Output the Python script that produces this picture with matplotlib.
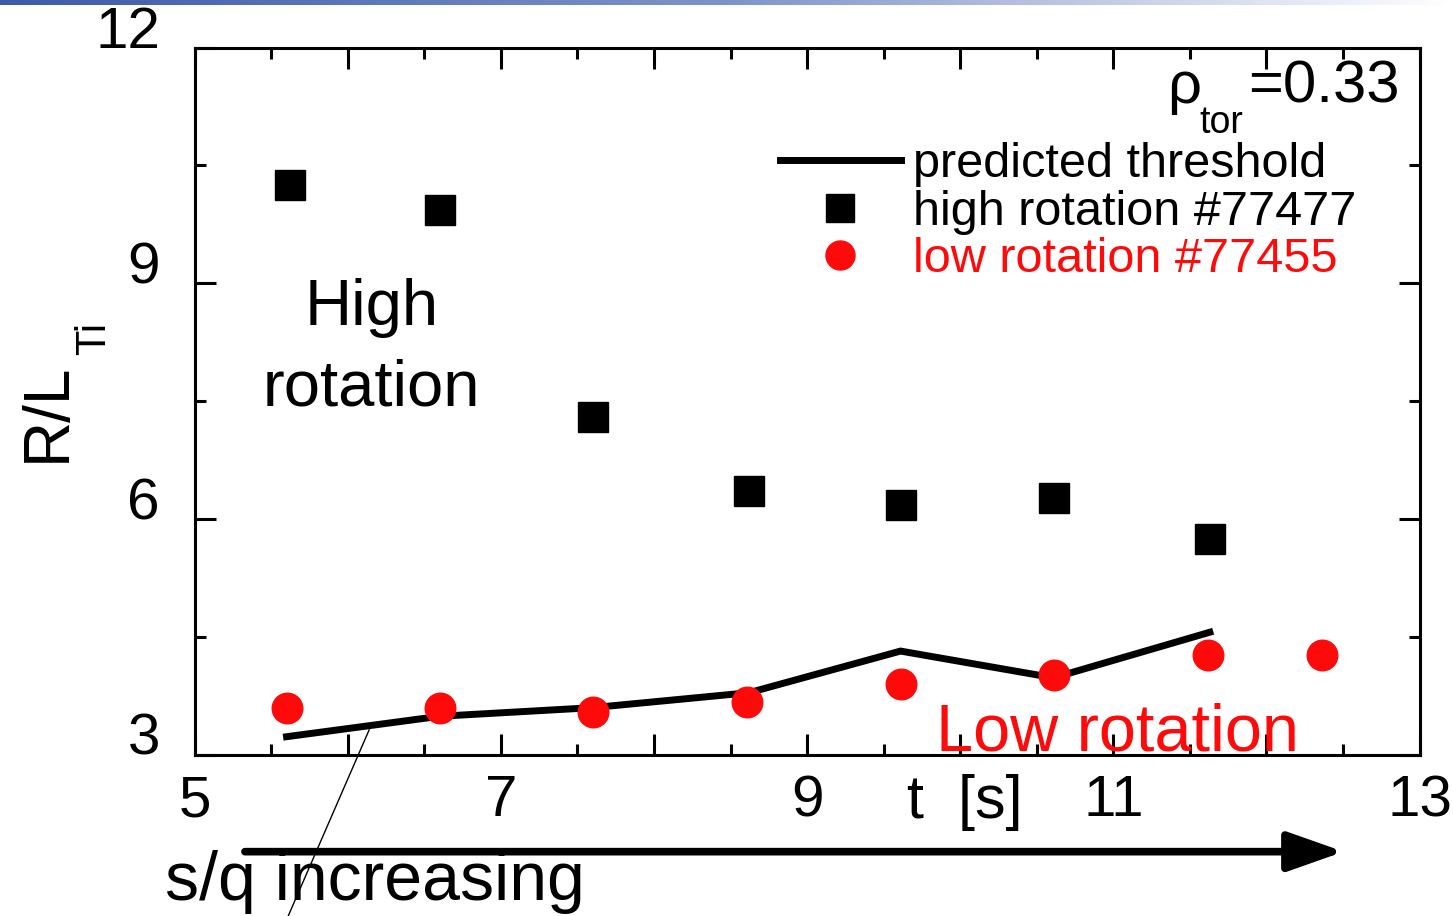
import numpy as np
import matplotlib
matplotlib.use("Agg")
import matplotlib.pyplot as plt
from matplotlib.ticker import MultipleLocator, FuncFormatter

plt.rcParams['font.family'] = ['Liberation Sans', 'DejaVu Sans']

# data
t_high = [5.62, 6.60, 7.60, 8.62, 9.61, 10.61, 11.63]
r_high = [10.25, 9.93, 7.30, 6.36, 6.18, 6.27, 5.75]
t_low = [5.60, 6.60, 7.60, 8.61, 9.61, 10.61, 11.62, 12.36]
r_low = [3.59, 3.59, 3.55, 3.67, 3.90, 4.02, 4.27, 4.27]
t_thr = [5.60, 6.60, 7.60, 8.62, 9.61, 10.61, 11.63]
r_thr = [3.23, 3.49, 3.60, 3.79, 4.32, 3.98, 4.56]

RED = '#ff0a0a'

fig = plt.figure(figsize=(14.53, 9.16), dpi=100)
ax = fig.add_axes([0.134, 0.176, 0.843, 0.772])

ax.plot(t_thr, r_thr, color='black', lw=5, label='predicted threshold',
        solid_joinstyle='miter', zorder=2)
ax.plot(t_high, r_high, 's', color='black', ms=21, label='high rotation #77477', zorder=3)
ax.plot(t_low, r_low, 'o', color=RED, ms=22, label='low rotation #77455', zorder=3)

ax.set_xlim(5, 13)
ax.set_ylim(3, 12)
ax.xaxis.set_major_locator(MultipleLocator(1))
ax.xaxis.set_minor_locator(MultipleLocator(0.5))
ax.xaxis.set_major_formatter(FuncFormatter(lambda v, p: '%d' % v if int(round(v)) % 2 == 1 else ''))
ax.yaxis.set_major_locator(MultipleLocator(3))
ax.yaxis.set_minor_locator(MultipleLocator(1.5))
ax.tick_params(which='both', direction='in', top=True, right=True, width=2.2)
ax.tick_params(which='major', length=15)
ax.tick_params(which='minor', length=8)
ax.tick_params(axis='x', labelsize=42, pad=14)
ax.tick_params(axis='y', labelsize=42, pad=25)
for lab in ax.get_yticklabels():
    lab.set_verticalalignment('baseline')
for s in ax.spines.values():
    s.set_linewidth(2.2)

# axis labels
ax.text(0.629, -0.027, 't  [s]', transform=ax.transAxes, fontsize=44, ha='center', va='top')
ax.text(-0.106, 0.485, 'R/L', transform=ax.transAxes, fontsize=46, rotation=90,
        rotation_mode='anchor', ha='center', va='baseline')
ax.text(-0.073, 0.565, 'Ti', transform=ax.transAxes, fontsize=30, rotation=90,
        rotation_mode='anchor', ha='left', va='baseline')

# rho_tor label
ax.text(0.984, 0.922, '=0.33', transform=ax.transAxes, fontsize=43, ha='right', va='baseline')
ax.text(0.794, 0.922, 'ρ', transform=ax.transAxes, fontsize=43, ha='left', va='baseline')
ax.text(0.820, 0.879, 'tor', transform=ax.transAxes, fontsize=27, ha='left', va='baseline')

# annotations inside
ax.text(6.156, 8.47, 'High', fontsize=47, ha='center', va='baseline')
ax.text(6.156, 7.45, 'rotation', fontsize=47, ha='center', va='baseline')
ax.text(11.03, 3.06, 'Low rotation', fontsize=48, ha='center', va='baseline', color=RED)

leg = ax.legend(loc='upper left', bbox_to_anchor=(0.4776, 0.866), frameon=False,
                fontsize=35, handlelength=2.5, handletextpad=0.25, borderpad=0,
                borderaxespad=0, labelspacing=0.05, markerscale=0.95)
leg.get_texts()[2].set_color(RED)

# thin pointer line and s/q arrow below the axes
ax.annotate('', xy=(6.14, 3.32), xytext=(5.60, 0.90), annotation_clip=False,
            arrowprops=dict(arrowstyle='-', lw=1, color='black', shrinkA=0, shrinkB=0))
ax.annotate('', xy=(0.938, -0.137), xytext=(0.041, -0.137), xycoords='axes fraction',
            annotation_clip=False,
            arrowprops=dict(arrowstyle='-|>,head_length=1.7,head_width=0.6', lw=5.5,
                            color='black', mutation_scale=20, shrinkA=0, shrinkB=0))
ax.text(-0.0245, -0.205, 's/q increasing', transform=ax.transAxes, fontsize=49,
        ha='left', va='baseline')

# header strip at the very top
hdr = fig.add_axes([0, 1 - 5 / 916, 1, 5 / 916])
grad = np.linspace(0, 1, 256).reshape(1, -1)
hdr.imshow(grad, aspect='auto', cmap=matplotlib.colors.LinearSegmentedColormap.from_list(
    'hdr', ['#3d5aa8', '#7e94c8', '#ffffff']))
hdr.axis('off')

fig.savefig('out.png', dpi=100)
